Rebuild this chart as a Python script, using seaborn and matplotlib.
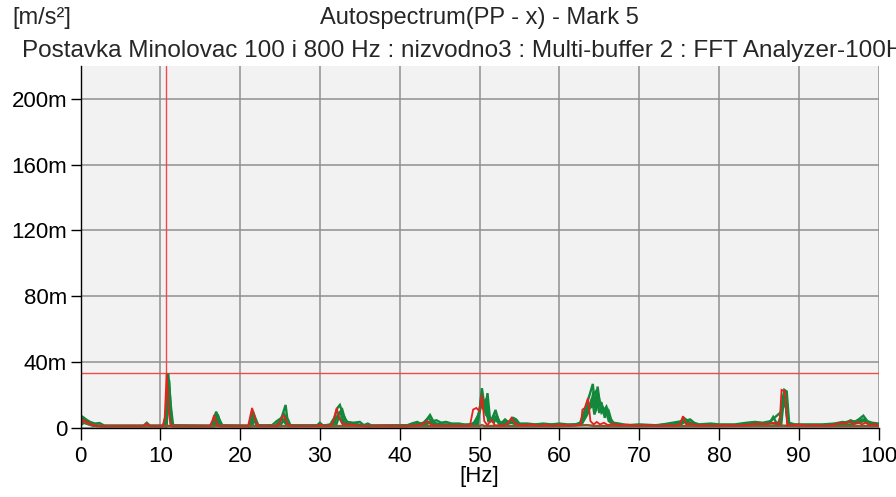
import matplotlib
matplotlib.use("Agg")
import matplotlib.pyplot as plt
import seaborn as sns
import pandas as pd

# ---- data (values in m(m/s^2), frequency in Hz) ----
red = [(0,2),(0.3,4.7),(0.8,3.5),(1.4,1.8),(2.0,1),
       (7.9,1),(8.3,2.5),(8.7,1),
       (10.3,1),(10.55,6),(10.8,33),(11.05,10),(11.3,1),
       (16.2,1),(16.5,4),(16.75,7.7),(17.1,2),(17.4,1),
       (21.0,1),(21.5,12),(21.75,8),(22.0,3),(22.3,1),
       (24.6,1),(25.0,3.5),(25.4,7.7),(25.7,5),(26.0,2),(26.3,1),
       (29.7,1),(30.1,2),(30.5,1),
       (31.3,1.2),(31.7,4),(32.1,12),(32.4,6),(32.8,2.5),(33.6,2),(34.4,1.5),(35.2,1),
       (38,1.2),(40.5,1),(42.5,1.5),(43.5,4),(44.0,1.5),(45.0,1.2),(47.0,1.2),
       (48.8,1.2),(49.2,11),(49.6,12),(50.0,10),(50.3,20),(50.6,4),(51.0,1.5),(51.5,5),(51.9,1.5),
       (53.0,1.2),(53.6,3),(54.0,6),(54.5,2.5),(55.2,1.5),
       (56.5,2),(57.5,1),(58.3,2),(59.2,1),(60.2,2),(61.2,1.2),(62.3,1.5),
       (62.7,2),(62.9,11),(63.2,12),(63.6,18),(63.9,4),(64.3,2),(64.7,3.5),(65.1,2),(65.6,3),
       (66.1,1.5),(66.7,2.5),(67.5,1.5),(68.5,2),(69.5,1.2),
       (71,1.5),(72.5,1),(73.5,1.5),(74.5,1.2),(75.1,2),(75.5,7),(75.9,2),(76.5,2.5),(77.2,1.2),(78,1.5),
       (79.5,1.2),(81,1.5),(82.5,1.2),(84,2),(85,2.5),(86,2.2),(87,3),(87.6,2),(87.85,23),(88.3,22),
       (88.55,1.5),(89.2,1.5),
       (90,2),(91,1.2),(92,1.5),(93.5,1.2),(94.5,2),(95.2,3),(95.8,2.5),(96.4,4),(96.9,2),(97.4,3.5),
       (97.9,2),(98.4,3),(99,1.5),(99.5,2.5),(100,1)]

brown = [(0,2.5),(0.4,3.5),(1.2,2),(2.0,1.2),(3.0,1),(10.6,1),(10.8,1.5),(11.0,1),(20,1),(30,1),
         (40,0.8),(50,1),(50.3,1.5),(50.6,1),(60,1),(63.5,1.5),(64.5,1),(70,1),(80,1),(88,1.2),
         (90,1),(100,1)]

green1 = [(0,3),(0.3,6.5),(0.7,5),(1.2,3.5),(1.8,2.5),(2.4,2.8),(3.0,1.2),
          (7.9,1.2),(8.3,3),(8.7,1.2),
          (10.4,1.2),(10.7,8),(11.0,33),(11.3,14),(11.6,1.5),
          (16.4,1.2),(16.8,7),(17.0,9.7),(17.4,5),(17.8,1.2),
          (21.2,1.2),(21.6,10),(21.9,6),(22.3,1.2),
          (24.0,1.5),(24.6,4),(25.2,6),(25.7,13.8),(25.9,6),(26.3,1.5),
          (29.6,1.2),(30.0,3),(30.4,1.2),
          (31.3,2),(31.8,6),(32.2,12),(32.5,13.8),(32.9,8),(33.4,3.5),(34.2,3),(35.0,3.5),(35.5,1.5),
          (36.0,2.5),(36.5,1.2),
          (40.8,1.2),(41.5,2.5),(42.2,3.5),(42.8,2),(43.4,5),(43.8,7.7),(44.2,4),(44.6,4.5),(45.2,3),
          (45.8,3.5),(46.5,2.5),(47.5,2.5),(48.3,1.5),
          (49.0,2),(49.5,3),(50.0,10),(50.3,24),(50.6,14),(50.9,18),(51.2,5),(51.6,4),(52.0,10.8),
          (52.4,4),(52.8,3),(53.2,5),(53.7,3),(54.2,6),(54.6,5),(55.0,2.5),
          (56.0,2.5),(57.0,2),(58.0,2.5),(59.0,2),(60.0,2.5),(61.0,2),(62.0,2),
          (62.6,3),(63.0,8),(63.4,14),(63.8,20),(64.2,26.6),(64.5,12),(64.8,25),(65.1,14),(65.5,10),
          (65.9,12.8),(66.3,6),(66.8,3),(67.5,2.5),(68.5,1.5),
          (70.0,2),(72.0,1.5),(73.5,2),(74.5,2),(75.2,3.5),(75.6,6),(76.0,4.5),(76.4,5),(76.9,3),(77.5,2),
          (79.0,2.5),(80.0,2),(82.0,2),(83.5,3),(84.5,3.5),(85.5,3),(86.5,4),(86.8,6.5),(87.2,3),(87.6,3),
          (87.9,14),(88.2,23),(88.5,22),(88.8,3),(89.5,2),
          (91.0,2),(93.0,2),(94.5,2.5),(95.5,3.5),(96.0,3),(96.5,4.5),(97.0,3.5),(97.5,5),(98.1,7.3),
          (98.6,4),(99.2,3),(100,2.5)]

green2 = [(0,2),(0.4,5),(1.0,3.5),(1.6,2),(2.5,1),
          (8.0,1),(8.4,2),(8.8,1),
          (10.6,1),(10.9,12),(11.1,29),(11.4,4),(11.7,1),
          (16.6,1),(17.0,6),(17.2,8),(17.6,1.5),
          (21.3,1),(21.7,8),(22.1,1.5),
          (24.4,1.2),(25.0,4),(25.5,9),(25.8,4),(26.2,1.2),
          (31.6,1.5),(32.4,9),(32.8,11),(33.2,4),(34.0,2.5),(34.8,2),(35.5,1),
          (41.0,1),(42.0,2),(43.0,3),(43.6,6),(44.3,2.5),(45.5,2),(47.0,2),(48.5,1.2),
          (49.3,3),(49.9,8),(50.4,16),(50.7,9),(51.0,21),(51.3,6),(51.8,3),(52.2,7),(52.6,2.5),
          (53.4,3.5),(54.0,4),(54.8,2),(56,1.5),(58,2),(60,1.5),(62,1.5),
          (62.8,3),(63.3,9),(63.7,15),(64.0,12),(64.4,20),(64.7,23),(65.0,9),(65.4,13),(65.8,8),
          (66.2,10),(66.6,3),(67.5,1.5),
          (70,1.5),(73,1.5),(75,2),(75.8,4.5),(76.5,3),(77.2,1.5),
          (80,1.5),(83,1.5),(85,2.5),(86.6,3),(87.4,2),(87.8,8),(88.1,20),(88.4,16),(88.7,2),(90,1.5),
          (93,1.5),(95,2.5),(96.5,4),(97.2,3),(98,5),(98.8,2.5),(100,2)]

green3 = [(0,1.5),(0.5,3.5),(1.2,2),(2.0,1),
          (10.7,1),(10.9,20),(11.2,8),(11.5,1),
          (16.7,1),(17.1,5),(17.5,1),
          (21.5,1),(21.8,5),(22.1,1),
          (24.8,1),(25.2,6),(25.6,3),(26.0,1),
          (31.8,1.2),(32.0,6),(32.6,9),(33.0,3),(34.5,1.5),(36,1),
          (42,1.5),(43,2.5),(44,4),(45,1.5),(47,1.5),
          (49.6,2),(50.1,13),(50.5,17),(50.8,8),(51.4,4),(51.8,8),(52.1,5),(52.5,2),(53.5,2),(54.3,5),
          (55,1.5),(58,1.5),(61,1.5),
          (62.5,2),(63.2,6),(63.6,10),(64.1,18),(64.4,8),(64.9,16),(65.3,15),(65.7,6),(66.0,12),(66.4,4),
          (67,2),(69,1.2),
          (72,1.2),(75.4,4),(76.2,2.5),(77,1.2),
          (81,1.2),(84,2),(86,2),(87.9,10),(88.3,18),(88.6,3),(89,1.5),
          (92,1.2),(95,2),(96,3),(97.3,4),(98.3,5),(99,2),(100,1.5)]

green4 = [(0,1.5),(0.4,3),(1.5,1.2),(3,1),
          (10.8,1),(11.0,24),(11.3,3),(11.6,1),
          (16.8,1),(17.0,4),(17.4,1),
          (25.0,1),(25.5,5),(26,1),
          (32,1),(32.4,7),(32.9,2),(34,1.2),
          (43,1.5),(43.8,3),(44.5,1.5),
          (49.8,2),(50.2,18),(50.5,11),(50.8,14),(51.1,4),(52,5),(52.6,2),(54,3),(55,1.2),(60,1.2),
          (62.8,2),(63.5,8),(63.9,13),(64.3,22),(64.6,10),(64.9,20),(65.3,9),(65.8,11),(66.2,4),(67,1.5),
          (75,1.2),(75.7,3.5),(76.5,1.2),
          (87.8,1.2),(88.1,16),(88.4,12),(88.7,1.2),
          (96,1.5),(97.5,3),(98.2,4),(99,1.5),(100,1.2)]

x_ticks = [0, 10, 20, 30, 40, 50, 60, 70, 80, 90, 100]
y_ticks = [0, 40, 80, 120, 160, 200]
y_tick_labels = ["0", "40m", "80m", "120m", "160m", "200m"]
cursor_hz = 10.67
cursor_level = 33.3

title_unit = "[m/s²]"
title_main = "Autospectrum(PP - x) - Mark 5"
title_sub = "Postavka Minolovac 100 i 800 Hz : nizvodno3 : Multi-buffer 2 : FFT Analyzer-100Hz"
x_label = "[Hz]"

# ---- build long table ----
series = {"g1": green1, "g2": green2, "g3": green3, "g4": green4, "brown": brown, "red": red}
rows = []
for name, pts in series.items():
    for hz, v in pts:
        rows.append({"hz": hz, "val": v, "trace": name})
df = pd.DataFrame(rows)

GREEN = "#13873b"
RED = "#e3231c"
BROWN = "#8a5a2e"
palette = {"g1": GREEN, "g2": GREEN, "g3": GREEN, "g4": GREEN, "brown": BROWN, "red": RED}
order = ["g1", "g2", "g3", "g4", "brown", "red"]

sns.set_theme(style="white")
plt.rcParams["font.family"] = ["Liberation Sans", "DejaVu Sans"]

fig = plt.figure(figsize=(8.96, 4.97), dpi=100)
ax = fig.add_axes([80.5 / 896, 1 - 428 / 497, (878.5 - 80.5) / 896, (428 - 66) / 497])
ax.set_facecolor("#f2f2f2")

sns.lineplot(data=df, x="hz", y="val", hue="trace", hue_order=order, palette=palette,
             estimator=None, sort=False, legend=False, ax=ax)
widths = {"g1": 1.7, "g2": 1.7, "g3": 1.7, "g4": 1.7, "brown": 1.8, "red": 1.3}
for line, name in zip(ax.get_lines(), order):
    line.set_linewidth(widths[name])
    line.set_solid_joinstyle("miter")

ax.axvline(cursor_hz, color="#f24a4a", lw=1.0, zorder=1.5)
ax.axhline(cursor_level, color="#f24a4a", lw=1.0, zorder=1.5)

ax.set_xlim(0, 100)
ax.set_ylim(-0.2, 220)
ax.set_xticks(x_ticks)
ax.set_xticklabels([str(t) for t in x_ticks])
ax.set_yticks(y_ticks)
ax.set_yticklabels(y_tick_labels)
ax.grid(True, color="#8f8f8f", lw=1.1)
ax.set_axisbelow(True)
for s in ["top", "right"]:
    ax.spines[s].set_visible(False)
for s in ["left", "bottom"]:
    ax.spines[s].set_color("black")
    ax.spines[s].set_linewidth(1.0)
ax.tick_params(axis="x", length=8.8, width=1, color="black", pad=4.5, labelsize=16, labelcolor="black", direction="out", bottom=True)
ax.tick_params(axis="y", length=7.2, width=1, color="black", pad=2.4, labelsize=16, labelcolor="black", direction="out", left=True)
ax.set_xlabel(x_label, fontsize=16, labelpad=-1, color="black")
ax.set_ylabel("")

fig.text(12 / 896, 1 - 18 / 497, title_unit, fontsize=17, va="center", ha="left")
fig.text(320 / 896, 1 - 18 / 497, title_main, fontsize=17, va="center", ha="left")
fig.text(22 / 896, 1 - 51 / 497, title_sub, fontsize=17.5, va="center", ha="left")

fig.savefig("out.png", dpi=100)
